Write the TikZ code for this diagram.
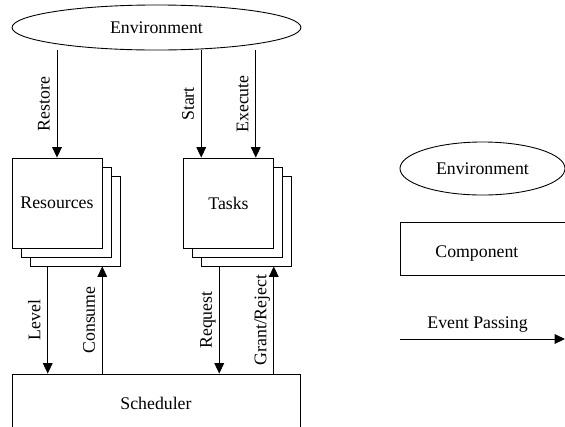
\documentclass[tikz,border=0pt]{standalone}
\usepackage{fontspec}
\setmainfont{Liberation Serif}
\usetikzlibrary{shapes}
\usetikzlibrary{arrows.meta}
\usetikzlibrary{calc}

\tikzset{
  comp/.style={draw, fill=white, minimum width=60.75pt, minimum height=60.75pt, inner sep=0pt},
  envir/.style={draw, ellipse, inner sep=0pt},
  evt/.style={-{Triangle[length=7pt,width=6.5pt]}},
  lbl/.style={midway, rotate=90, anchor=base, yshift=5pt}
}

\begin{document}
\begin{tikzpicture}[x=0.675pt, y=-0.675pt, line width=0.6pt, font=\fontsize{12}{14}\selectfont]
\useasboundingbox (0,0) rectangle (565,426);
\node[envir, minimum width=195pt, minimum height=30.4pt] (env) at (156.5,27.5) {Environment};
\foreach \d/\n in {18/3, 9/2} {
  \node[comp] (res\n) at (57+\d, 203+\d) {};
  \node[comp] (tsk\n) at (228.5+\d, 203+\d) {};
}
\node[comp] (res) at (57,203) {Resources};
\node[comp] (tsk) at (228.5,203) {Tasks};
\node[draw, minimum width=194.4pt, minimum height=39.15pt] (sch) at (156,403) {Scheduler};

\coordinate (sta) at ($(tsk.north west)!.2!(tsk.north east)$);
\coordinate (exe) at ($(tsk.north west)!.8!(tsk.north east)$);
\coordinate (lev) at ($(res3.south west)!.2!(res3.south east)$);
\coordinate (con) at ($(res3.south west)!.8!(res3.south east)$);
\coordinate (req) at ($(tsk3.south west)!.2!(tsk3.south east)$);
\coordinate (gra) at ($(tsk3.south west)!.8!(tsk3.south east)$);

\draw[evt] (res.north |- env.south) -- node[lbl] {Restore} (res.north);
\draw[evt] (sta |- env.south) -- node[lbl] {Start} (sta);
\draw[evt] (exe |- env.south) -- node[lbl] {Execute} (exe);
\draw[evt] (lev) -- node[lbl] {Level} (lev |- sch.north);
\draw[evt] (con |- sch.north) -- node[lbl] {Consume} (con);
\draw[evt] (req) -- node[lbl] {Request} (req |- sch.north);
\draw[evt] (gra |- sch.north) -- node[lbl] {Grant/Reject} (gra);

% legend
\node[envir, minimum width=111.4pt, minimum height=35.8pt] (lenv) at (482.5,168.5) {Environment};
\node[draw, anchor=north west, minimum height=35.8pt, text width=101.3pt, text height=12pt, text depth=0pt, inner xsep=23.6pt, align=left] (lcomp) at (400,222) {Component};
\coordinate (ev0) at (400,339);
\coordinate (ev1) at (565,339);
\draw[evt] (ev0) -- node[pos=.47, above=1pt] {Event Passing} (ev1);
\end{tikzpicture}
\end{document}
